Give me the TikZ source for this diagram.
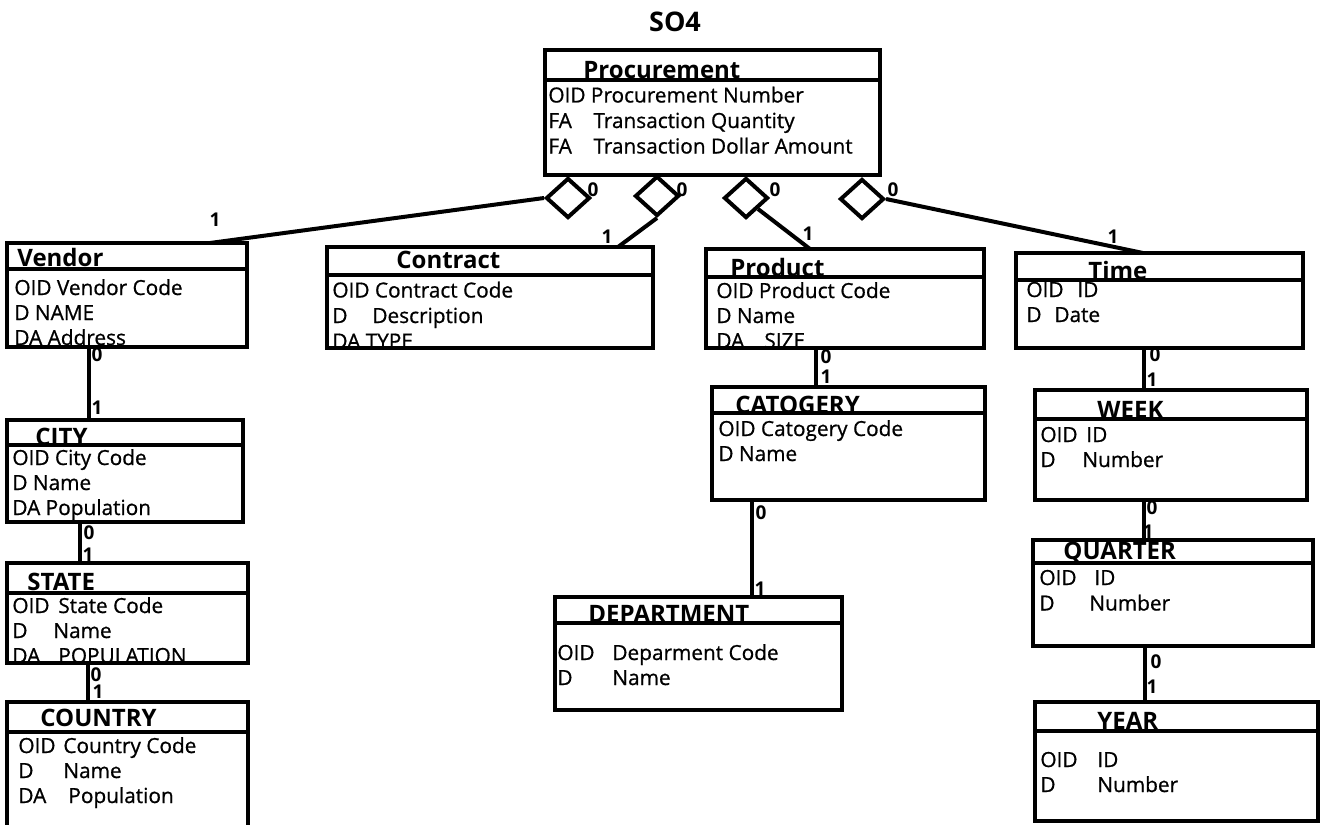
\documentclass[tikz,border=0pt]{standalone}
\usepackage{fontspec}
\setmainfont{Open Sans}
\newfontfamily\attrfont{Open Sans}[FakeBold=0.8]
\usetikzlibrary{shapes,fit}

% key column of an attribute line
\newcommand{\fld}[2]{\makebox[#1][l]{#2}}

\tikzset{
  ent/.style={draw, line width=2.3pt, inner sep=0pt, outer sep=0pt},
  bar/.style={line width=1.8pt},
  link/.style={line width=2pt},
  rel/.style={draw, diamond, line width=2pt, inner sep=0pt, minimum width=22pt, minimum height=20pt},
  head/.style={anchor=base west, inner sep=0pt, font=\bfseries\fontsize{12}{13}\selectfont},
  attr/.style={anchor=base west, inner sep=0pt, font=\attrfont\fontsize{10.4}{12}\selectfont},
  card/.style={inner sep=0pt, font=\bfseries\fontsize{9.5}{10}\selectfont},
}

\begin{document}
\begin{tikzpicture}[x=0.5pt, y=-0.5pt]
    \useasboundingbox (0,0) rectangle (1321,824);

    \node[inner sep=0pt, font=\bfseries\fontsize{13.5}{15}\selectfont] (so4) at (675,22) {SO4};

    % fact
    \node[ent, fit={(545,50) (880,175)}] (proc) {};
    \draw[bar] (proc.west |- 0,80) -- (proc.east |- 0,80);
    \node[head] (proc-t) at (583,79) {Procurement};
    \foreach \t [count=\i] in {OID Procurement Number, \fld{22.5pt}{FA}Transaction Quantity, \fld{22.5pt}{FA}Transaction Dollar Amount}
        \node[attr] (proc-\i) at (548,77+25.5*\i) {\t};

    \node[rel] (d1) at (568,198) {};
    \node[rel] (d2) at (657,196) {};
    \node[rel] (d3) at (746,198) {};
    \node[rel] (d4) at (862,199) {};

    % dimensions
    \node[ent, fit={(7,243) (247,347)}] (vendor) {};
    \draw[bar] (vendor.west |- 0,269) -- (vendor.east |- 0,269);
    \node[head] (vendor-t) at (17,266) {Vendor};
    \begin{scope}
        \clip (vendor.south west) rectangle (vendor.north east);
        \foreach \t [count=\i] in {OID Vendor Code, D NAME, DA Address}
            \node[attr] (vendor-\i) at (14,270+25*\i) {\t};
    \end{scope}

    \node[ent, fit={(327,247) (653,348)}] (contract) {};
    \draw[bar] (contract.west |- 0,275) -- (contract.east |- 0,275);
    \node[head] (contract-t) at (396,268) {Contract};
    \begin{scope}
        \clip (contract.south west) rectangle (contract.north east);
        \foreach \t [count=\i] in {OID Contract Code, \fld{20pt}{D}Description, DA TYPE}
            \node[attr] (contract-\i) at (332,272+25.5*\i) {\t};
    \end{scope}

    \node[ent, fit={(706,249) (984,348)}] (product) {};
    \draw[bar] (product.west |- 0,277) -- (product.east |- 0,277);
    \node[head] (product-t) at (730,276) {Product};
    \begin{scope}
        \clip (product.south west) rectangle (product.north east);
        \foreach \t [count=\i] in {OID Product Code, D Name, \fld{24pt}{DA}SIZE}
            \node[attr] (product-\i) at (716,273+25*\i) {\t};
    \end{scope}

    \node[ent, fit={(1016,253) (1303,348)}] (time) {};
    \draw[bar] (time.west |- 0,280) -- (time.east |- 0,280);
    \node[head] (time-t) at (1088,279) {Time};
    \foreach \t [count=\i] in {\fld{25.5pt}{OID}ID, \fld{14pt}{D}Date}
        \node[attr] (time-\i) at (1026,272+25*\i) {\t};

    % location hierarchy
    \node[ent, fit={(7,420) (243,522)}] (city) {};
    \draw[bar] (city.west |- 0,445) -- (city.east |- 0,445);
    \node[head] (city-t) at (35,445) {CITY};
    \foreach \t [count=\i] in {OID City Code, D Name, DA Population}
        \node[attr] (city-\i) at (12,440+25*\i) {\t};

    \node[ent, fit={(7,563) (248,663)}] (state) {};
    \draw[bar] (state.west |- 0,593) -- (state.east |- 0,593);
    \node[head] (state-t) at (27,590) {STATE};
    \begin{scope}
        \clip (state.south west) rectangle (state.north east);
        \foreach \t [count=\i] in {\fld{23pt}{OID}State Code, \fld{20.5pt}{D}Name, \fld{23pt}{DA}POPULATION}
            \node[attr] (state-\i) at (12,588+25*\i) {\t};
    \end{scope}

    \node[ent, fit={(7,702) (248,850)}] (country) {};
    \draw[bar] (country.west |- 0,732) -- (country.east |- 0,732);
    \node[head] (country-t) at (40,726) {COUNTRY};
    \foreach \t [count=\i] in {\fld{22.5pt}{OID}Country Code, \fld{22.5pt}{D}Name, \fld{25pt}{DA}Population}
        \node[attr] (country-\i) at (18,728+25*\i) {\t};

    % product hierarchy
    \node[ent, fit={(712,387) (985,500)}] (catogery) {};
    \draw[bar] (catogery.west |- 0,413) -- (catogery.east |- 0,413);
    \node[head] (catogery-t) at (735,413) {CATOGERY};
    \foreach \t [count=\i] in {OID Catogery Code, D Name}
        \node[attr] (catogery-\i) at (718,411+25*\i) {\t};

    \node[ent, fit={(555,597) (842,710)}] (dept) {};
    \draw[bar] (dept.west |- 0,623) -- (dept.east |- 0,623);
    \node[head] (dept-t) at (588,622) {DEPARTMENT};
    \foreach \t [count=\i] in {\fld{27.5pt}{OID}Deparment Code, \fld{27.5pt}{D}Name}
        \node[attr] (dept-\i) at (557,635+25*\i) {\t};

    % time hierarchy
    \node[ent, fit={(1035,390) (1307,500)}] (week) {};
    \draw[bar] (week.west |- 0,419) -- (week.east |- 0,419);
    \node[head] (week-t) at (1097,418) {WEEK};
    \foreach \t [count=\i] in {\fld{23pt}{OID}ID, \fld{21pt}{D}Number}
        \node[attr] (week-\i) at (1040,417+25*\i) {\t};

    \node[ent, fit={(1033,540) (1313,646)}] (quarter) {};
    \draw[bar] (quarter.west |- 0,563) -- (quarter.east |- 0,563);
    \node[head] (quarter-t) at (1063,559) {QUARTER};
    \foreach \t [count=\i] in {\fld{27.5pt}{OID}ID, \fld{25pt}{D}Number}
        \node[attr] (quarter-\i) at (1039,559.5+25.5*\i) {\t};

    \node[ent, fit={(1035,702) (1318,821)}] (year) {};
    \draw[bar] (year.west |- 0,731) -- (year.east |- 0,731);
    \node[head] (year-t) at (1097,729) {YEAR};
    \foreach \t [count=\i] in {\fld{28.5pt}{OID}ID, \fld{28.5pt}{D}Number}
        \node[attr] (year-\i) at (1040,742+25*\i) {\t};

    % relationships of the fact
    \draw[link] (d1.west) -- (vendor.north -| 210,0);
    \draw[link] (d2.south) -- (contract.north -| 618,0);
    \draw[link] (d3.south east) -- (product.north -| 810,0);
    \draw[link] (d4.east) -- (time.north -| 1143,0);

    \node[card] (c0a) at (593,190) {0};
    \node[card] (c0b) at (682,190) {0};
    \node[card] (c0c) at (775,190) {0};
    \node[card] (c0d) at (893,190) {0};
    \node[card] (c1a) at (215,220) {1};
    \node[card] (c1b) at (607,237) {1};
    \node[card] (c1c) at (808,234) {1};
    \node[card] (c1d) at (1113,237) {1};

    % roll-ups
    \draw[link] (vendor.south -| 89,0) -- (city.north -| 89,0);
    \draw[link] (city.south -| 80,0) -- (state.north -| 80,0);
    \draw[link] (state.south -| 88,0) -- (country.north -| 88,0);
    \draw[link] (product.south -| 816,0) -- (catogery.north -| 816,0);
    \draw[link] (catogery.south -| 752,0) -- (dept.north -| 752,0);
    \draw[link] (time.south -| 1144,0) -- (week.north -| 1144,0);
    \draw[link] (week.south -| 1144,0) -- (quarter.north -| 1144,0);
    \draw[link] (quarter.south -| 1145,0) -- (year.north -| 1145,0);

    \node[card] (v0) at (97,355) {0};
    \node[card] (v1) at (97,408) {1};
    \node[card] (ci0) at (89,533) {0};
    \node[card] (ci1) at (88,555) {1};
    \node[card] (s0) at (96,675) {0};
    \node[card] (s1) at (98,692) {1};
    \node[card] (p0) at (826,357) {0};
    \node[card] (p1) at (826,377) {1};
    \node[card] (ca0) at (761,513) {0};
    \node[card] (ca1) at (760,589) {1};
    \node[card] (t0) at (1155,355) {0};
    \node[card] (t1) at (1152,380) {1};
    \node[card] (w0) at (1152,508) {0};
    \node[card] (w1) at (1148,532) {1};
    \node[card] (q0) at (1156,662) {0};
    \node[card] (q1) at (1152,687) {1};
\end{tikzpicture}
\end{document}
